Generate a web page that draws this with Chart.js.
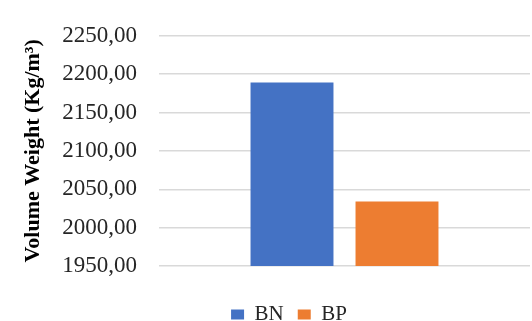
<!DOCTYPE html>
<html>
<head>
<meta charset="utf-8">
<script src="https://cdn.jsdelivr.net/npm/chart.js@4/dist/chart.umd.min.js"></script>
<style>
html,body{margin:0;padding:0;background:#fff;}
#wrap{width:532px;height:321px;position:relative;}
</style>
</head>
<body>
<div id="wrap"><canvas id="c" width="532" height="321"></canvas></div>
<script>
const categories = [""];
const seriesNames = ["BN", "BP"];
const bnValues = [2189];
const bpValues = [2034];
const yTicks = [1950, 2000, 2050, 2100, 2150, 2200, 2250];
const yTitle = "Volume Weight (Kg/m\u00B3)";

const serif = "'Liberation Serif', 'Times New Roman', serif";

const shiftLegend = {
  id: 'shiftLegend',
  afterLayout(chart) {
    const lg = chart.legend;
    if (lg) { lg.left += 24; lg.right += 24; }
  }
};

new Chart(document.getElementById('c'), {
  type: 'bar',
  data: {
    labels: categories,
    datasets: [
      { label: seriesNames[0], data: bnValues, backgroundColor: '#4472C4', categoryPercentage: 0.566, barPercentage: 0.79 },
      { label: seriesNames[1], data: bpValues, backgroundColor: '#ED7D31', categoryPercentage: 0.566, barPercentage: 0.79 }
    ]
  },
  plugins: [shiftLegend],
  options: {
    responsive: false,
    animation: false,
    layout: { padding: { top: 30, right: 2, bottom: -14, left: 0 } },
    plugins: {
      tooltip: { enabled: false },
      legend: {
        position: 'bottom',
        labels: {
          font: { family: serif, size: 21 },
          color: '#262626',
          boxWidth: 13,
          boxHeight: 10,
          padding: 14
        }
      }
    },
    scales: {
      x: {
        grid: { display: false },
        border: { display: false },
        ticks: { display: false },
        afterFit(scale) { scale.height = 24; }
      },
      y: {
        min: yTicks[0],
        max: yTicks[yTicks.length - 1],
        afterBuildTicks(scale) { scale.ticks = yTicks.map(v => ({ value: v })); },
        afterFit(scale) { scale.width = 159; },
        ticks: {
          padding: 22,
          color: '#262626',
          font: { family: serif, size: 23 },
          callback: (v) => Number(v).toFixed(2).replace('.', ',')
        },
        grid: { color: '#D9D9D9', lineWidth: 1.5, drawTicks: false },
        border: { display: false },
        title: {
          display: true,
          text: yTitle,
          color: '#000',
          font: { family: serif, size: 22, weight: 'bold' },
          padding: { top: 20, bottom: 0 }
        }
      }
    }
  }
});
</script>
</body>
</html>
